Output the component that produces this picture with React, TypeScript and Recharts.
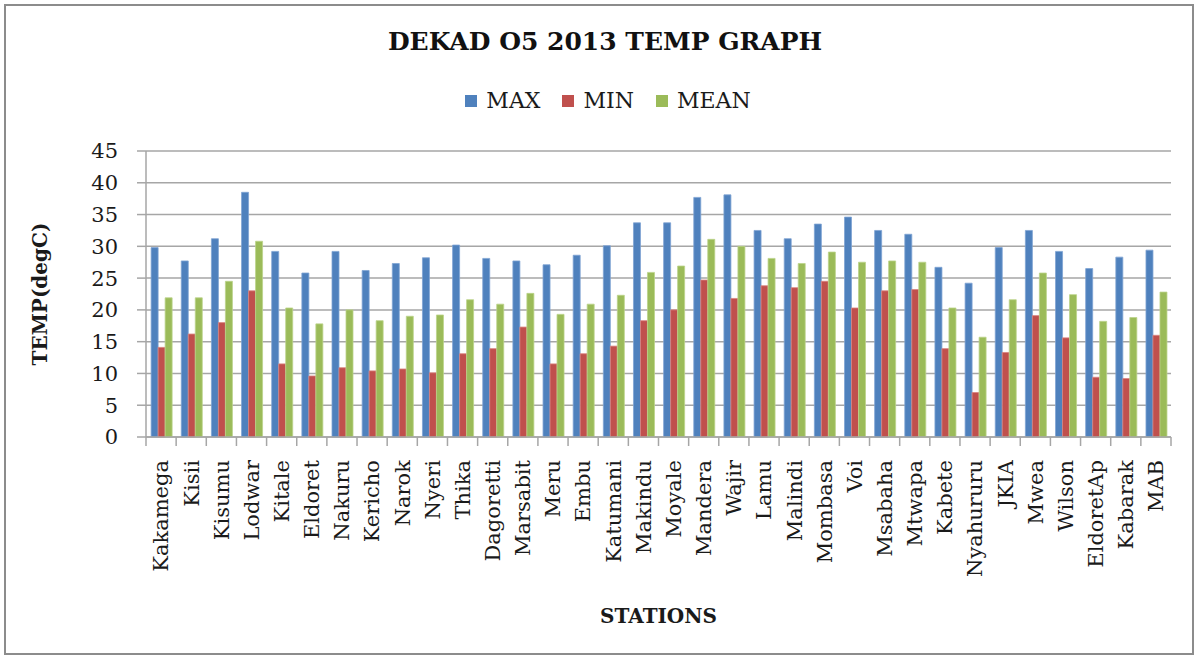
import { Bar, BarChart, CartesianGrid, XAxis, YAxis } from "recharts";

const stations = [
  "Kakamega", "Kisii", "Kisumu", "Lodwar", "Kitale", "Eldoret", "Nakuru", "Kericho", "Narok", "Nyeri",
  "Thika", "Dagoretti", "Marsabit", "Meru", "Embu", "Katumani", "Makindu", "Moyale", "Mandera", "Wajir",
  "Lamu", "Malindi", "Mombasa", "Voi", "Msabaha", "Mtwapa", "Kabete", "Nyahururu", "JKIA", "Mwea",
  "Wilson", "EldoretAp", "Kabarak", "MAB",
];
const maxTemp = [
  29.8, 27.7, 31.2, 38.5, 29.2, 25.8, 29.2, 26.2, 27.3, 28.2,
  30.2, 28.1, 27.7, 27.1, 28.6, 30.1, 33.7, 33.7, 37.7, 38.1,
  32.5, 31.2, 33.5, 34.6, 32.5, 31.9, 26.7, 24.2, 29.8, 32.5,
  29.2, 26.5, 28.3, 29.4,
];
const minTemp = [
  14.1, 16.2, 18.0, 23.0, 11.5, 9.6, 10.9, 10.4, 10.7, 10.1,
  13.1, 13.9, 17.3, 11.5, 13.1, 14.3, 18.3, 20.0, 24.7, 21.8,
  23.8, 23.5, 24.5, 20.3, 23.0, 23.2, 13.9, 7.0, 13.3, 19.1,
  15.6, 9.4, 9.2, 16.0,
];
const meanTemp = [
  21.9, 21.9, 24.5, 30.8, 20.3, 17.8, 20.0, 18.3, 19.0, 19.2,
  21.6, 20.9, 22.6, 19.3, 20.9, 22.3, 25.9, 26.9, 31.1, 30.0,
  28.1, 27.3, 29.1, 27.5, 27.7, 27.5, 20.3, 15.7, 21.6, 25.8,
  22.4, 18.2, 18.8, 22.8,
];
const yTicks = [0, 5, 10, 15, 20, 25, 30, 35, 40, 45];

const series = [
  { key: "max", name: "MAX", color: "#4F81BD", edge: "#7FA3D3" },
  { key: "min", name: "MIN", color: "#C0504D", edge: "#D9837F" },
  { key: "mean", name: "MEAN", color: "#9BBB59", edge: "#BBD38A" },
];

const data = stations.map((s, i) => ({ station: s, max: maxTemp[i], min: minTemp[i], mean: meanTemp[i] }));

const W = 1199, H = 658;
const FONT = "'DejaVu Serif', 'Liberation Serif', serif";
const GRID = "#a6a6a6";
const margin = { top: 151, right: 28, bottom: 21, left: 36 };
const plotW = W - 146 - margin.right;
const step = plotW / stations.length;

function StationTick(props: any) {
  const { x, y, payload, index } = props;
  const bx = x - step / 2;
  return (
    <g>
      <line x1={bx} x2={bx} y1={y - 23} y2={y - 14} stroke={GRID} strokeWidth={1.5} />
      {index === stations.length - 1 && (
        <line x1={x + step / 2} x2={x + step / 2} y1={y - 23} y2={y - 14} stroke={GRID} strokeWidth={1.5} />
      )}
      <text x={x} y={y} transform={`rotate(-90, ${x}, ${y})`} textAnchor="end" dy="0.35em"
        fontFamily={FONT} fontSize={21} fill="#1a1a1a">
        {payload.value}
      </text>
    </g>
  );
}

export default function App() {
  return (
    <div style={{ position: "absolute", left: 0, top: 0, width: W, height: H, background: "#fff" }}>
      <BarChart width={W} height={H} data={data} margin={margin} barCategoryGap="17%" barGap={0}>
        <CartesianGrid vertical={false} stroke={GRID} strokeWidth={1.5} />
        <XAxis dataKey="station" interval={0} height={200} tickLine={false} tickSize={9} tickMargin={14}
          axisLine={{ stroke: GRID, strokeWidth: 1.5 }} tick={<StationTick />}
          label={{
            content: ({ viewBox }: any) => (
              <text x={viewBox.x + viewBox.width / 2} y={viewBox.y + 186} textAnchor="middle"
                fontFamily={FONT} fontSize={20} fontWeight="bold" fill="#1a1a1a">STATIONS</text>
            ),
          }} />
        <YAxis domain={[0, 45]} ticks={yTicks} width={110} tickSize={9} tickMargin={19}
          axisLine={{ stroke: GRID, strokeWidth: 1.5 }} tickLine={{ stroke: GRID, strokeWidth: 1.5 }}
          tick={{ fontFamily: FONT, fontSize: 21, fill: "#1a1a1a" }}
          label={{
            content: ({ viewBox }: any) => {
              const cx = viewBox.x + 4, cy = viewBox.y + viewBox.height / 2;
              return (
                <text x={cx} y={cy} transform={`rotate(-90, ${cx}, ${cy})`} textAnchor="middle"
                  dominantBaseline="central" fontFamily={FONT} fontSize={20} fontWeight="bold" fill="#1a1a1a">
                  TEMP(degC)
                </text>
              );
            },
          }} />
        {series.map((s) => (
          <Bar key={s.key} dataKey={s.key} name={s.name} fill={s.color} stroke={s.edge} strokeWidth={0.8}
            isAnimationActive={false} />
        ))}
      </BarChart>
      <div style={{ position: "absolute", left: 0, top: 25, width: 1210, textAlign: "center",
        fontFamily: FONT, fontWeight: "bold", fontSize: 25, lineHeight: "34px", color: "#111" }}>
        DEKAD O5 2013 TEMP GRAPH
      </div>
      <div style={{ position: "absolute", left: 0, top: 86, width: 1238, display: "flex",
        justifyContent: "center", alignItems: "center", fontFamily: FONT, fontSize: 22, lineHeight: "30px", color: "#1a1a1a" }}>
        {series.map((s) => (
          <div key={s.key} style={{ display: "flex", alignItems: "center", marginRight: 22 }}>
            <span style={{ width: 12, height: 12, background: s.color, marginRight: 9, display: "inline-block" }} />
            {s.name}
          </div>
        ))}
      </div>
      <div style={{ position: "absolute", left: 4, top: 4, width: 1190, height: 651,
        border: "2px solid #8c8c8c", boxSizing: "border-box", pointerEvents: "none" }} />
    </div>
  );
}
